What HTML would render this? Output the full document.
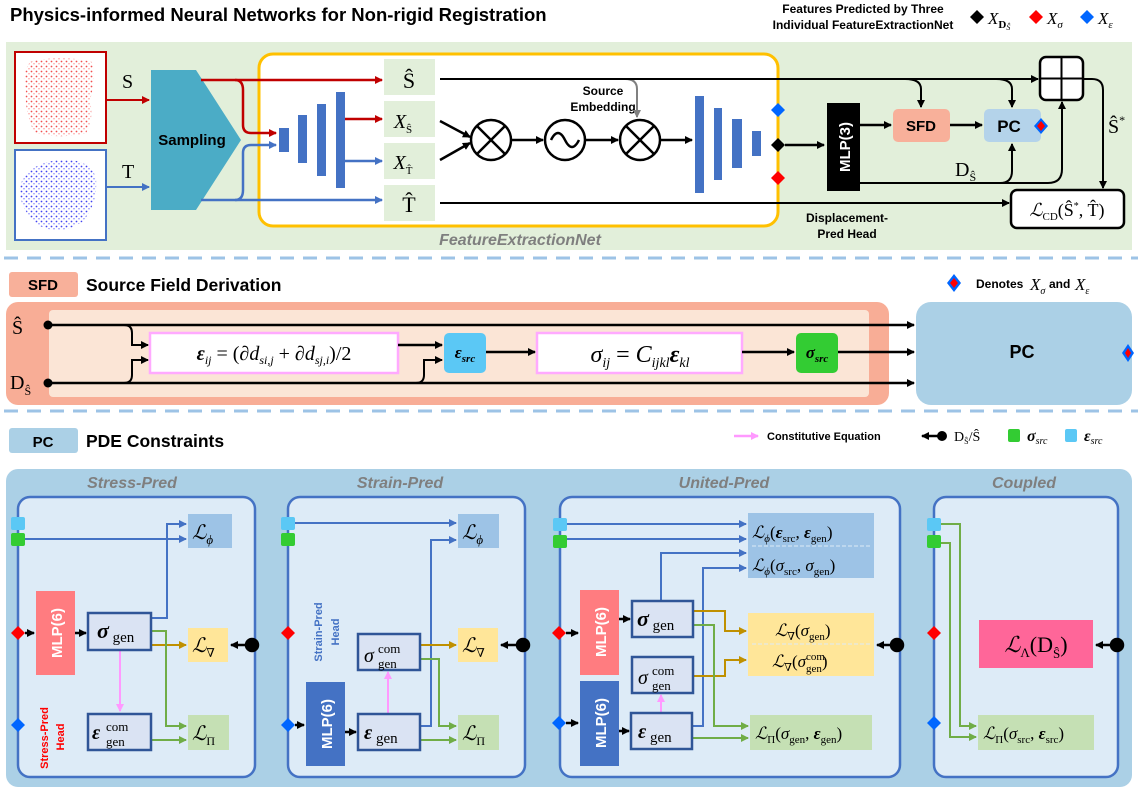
<!DOCTYPE html>
<html><head><meta charset="utf-8"><style>
html,body{margin:0;padding:0;background:#fff}
svg{display:block}
.b{font-family:"Liberation Sans",sans-serif;font-weight:bold}
.m{font-family:"Liberation Serif","DejaVu Serif",serif}
.i{font-style:italic}
</style></head><body>
<svg width="1138" height="789" viewBox="0 0 1138 789" xmlns="http://www.w3.org/2000/svg">
<defs>
<marker id="ak" markerWidth="8" markerHeight="8" refX="7" refY="4" orient="auto" markerUnits="userSpaceOnUse"><path d="M0,0L8,4L0,8z" fill="#000"/></marker>
<marker id="ar" markerWidth="8" markerHeight="8" refX="7" refY="4" orient="auto" markerUnits="userSpaceOnUse"><path d="M0,0L8,4L0,8z" fill="#c00000"/></marker>
<marker id="ab" markerWidth="8" markerHeight="8" refX="7" refY="4" orient="auto" markerUnits="userSpaceOnUse"><path d="M0,0L8,4L0,8z" fill="#4472c4"/></marker>
<marker id="ag" markerWidth="8" markerHeight="8" refX="7" refY="4" orient="auto" markerUnits="userSpaceOnUse"><path d="M0,0L8,4L0,8z" fill="#70ad47"/></marker>
<marker id="ao" markerWidth="8" markerHeight="8" refX="7" refY="4" orient="auto" markerUnits="userSpaceOnUse"><path d="M0,0L8,4L0,8z" fill="#bf9000"/></marker>
<marker id="ap" markerWidth="8" markerHeight="8" refX="7" refY="4" orient="auto" markerUnits="userSpaceOnUse"><path d="M0,0L8,4L0,8z" fill="#ff99ff"/></marker>
<marker id="ay" markerWidth="8" markerHeight="8" refX="7" refY="4" orient="auto" markerUnits="userSpaceOnUse"><path d="M0,0L8,4L0,8z" fill="#808080"/></marker>
<pattern id="pr" width="5" height="5" patternUnits="userSpaceOnUse"><circle cx="1.5" cy="1.5" r="0.9" fill="#f03030"/><circle cx="4" cy="3.8" r="0.7" fill="#ff7070"/></pattern>
<pattern id="pb" width="5" height="5" patternUnits="userSpaceOnUse"><circle cx="1.5" cy="1.5" r="0.9" fill="#2020ee"/><circle cx="4" cy="3.8" r="0.7" fill="#5050ff"/></pattern>
</defs>

<!-- Title -->
<text x="10" y="21" class="b" font-size="18.5">Physics-informed Neural Networks for Non-rigid Registration</text>
<text x="863" y="13" class="b" font-size="12" text-anchor="middle">Features Predicted by Three</text>
<text x="863" y="29" class="b" font-size="12" text-anchor="middle">Individual FeatureExtractionNet</text>
<path d="M977,10l7,7l-7,7l-7,-7z" fill="#000"/>
<text x="988" y="24" class="m i" font-size="17">X<tspan font-size="11" dy="4" font-style="normal" font-weight="bold">D</tspan><tspan font-size="8" dy="2">Ŝ</tspan></text>
<path d="M1036,10l7,7l-7,7l-7,-7z" fill="#f00"/>
<text x="1047" y="24" class="m i" font-size="17">X<tspan font-size="11" dy="4">σ</tspan></text>
<path d="M1087,10l7,7l-7,7l-7,-7z" fill="#0066ff"/>
<text x="1098" y="24" class="m i" font-size="17">X<tspan font-size="11" dy="4">ε</tspan></text>

<!-- top green region -->
<rect x="6" y="42" width="1126" height="208" fill="#e2efda"/>
<rect x="15" y="52" width="91" height="91" fill="#fff" stroke="#c00000" stroke-width="2"/>
<path d="M30,62Q60,54 92,62Q96,80 90,100Q94,120 86,133Q58,140 34,132Q24,110 26,90Q22,72 30,62z" fill="url(#pr)" opacity=".85"/>
<rect x="15" y="150" width="91" height="90" fill="#fff" stroke="#4472c4" stroke-width="2"/>
<path d="M20,185Q30,162 60,160Q90,158 96,178Q98,205 82,222Q60,236 40,226Q18,210 20,185z" fill="url(#pb)" opacity=".85"/>
<text x="122" y="88" class="m" font-size="20">S</text>
<text x="122" y="178" class="m" font-size="20">T</text>
<line x1="106" y1="100" x2="149" y2="100" stroke="#c00000" stroke-width="2" marker-end="url(#ar)"/>
<line x1="106" y1="187" x2="149" y2="187" stroke="#4472c4" stroke-width="2" marker-end="url(#ab)"/>
<path d="M151,70H196L241,140L196,210H151z" fill="#4bacc6"/>
<text x="192" y="145" class="b" font-size="15" text-anchor="middle">Sampling</text>

<rect x="259" y="54" width="519" height="172" rx="14" fill="#fff" stroke="#ffc000" stroke-width="3"/>
<text x="520" y="245" class="b i" font-size="16" fill="#7f7f7f" text-anchor="middle">FeatureExtractionNet</text>

<path d="M201,80H382" stroke="#c00000" stroke-width="2.5" fill="none" marker-end="url(#ar)"/>
<path d="M235,80Q243,80 243,90V125Q243,133 251,133H276" stroke="#c00000" stroke-width="2.5" fill="none" marker-end="url(#ar)"/>
<path d="M201,200H382" stroke="#4472c4" stroke-width="2.5" fill="none" marker-end="url(#ab)"/>
<path d="M235,200Q243,200 243,190V153Q243,145 251,145H276" stroke="#4472c4" stroke-width="2.5" fill="none" marker-end="url(#ab)"/>
<g fill="#4472c4">
<rect x="279" y="128" width="10" height="24"/><rect x="298" y="115" width="9" height="48"/><rect x="317" y="104" width="9" height="72"/><rect x="336" y="92" width="9" height="96"/>
</g>
<line x1="345" y1="119" x2="382" y2="119" stroke="#c00000" stroke-width="2.5" marker-end="url(#ar)"/>
<line x1="345" y1="161" x2="382" y2="161" stroke="#4472c4" stroke-width="2.5" marker-end="url(#ab)"/>
<g fill="#e2efda">
<rect x="384" y="59" width="51" height="36"/><rect x="384" y="101" width="51" height="36"/><rect x="384" y="143" width="51" height="36"/><rect x="384" y="185" width="51" height="36"/>
</g>
<text x="409" y="88" class="m" font-size="22" text-anchor="middle">Ŝ</text>
<text x="403" y="128" class="m i" font-size="20" text-anchor="middle">X<tspan font-size="11" dy="5" font-style="normal">Ŝ</tspan></text>
<text x="403" y="169" class="m i" font-size="20" text-anchor="middle">X<tspan font-size="11" dy="5" font-style="normal">T̂</tspan></text>
<text x="409" y="212" class="m" font-size="22" text-anchor="middle">T̂</text>

<line x1="440" y1="121" x2="470" y2="137" stroke="#000" stroke-width="2.5" marker-end="url(#ak)"/>
<line x1="440" y1="160" x2="470" y2="143" stroke="#000" stroke-width="2.5" marker-end="url(#ak)"/>
<g stroke="#000" stroke-width="2.5" fill="#fff">
<circle cx="491" cy="140" r="20"/><path d="M477,126L505,154M505,126L477,154"/>
<circle cx="565" cy="140" r="20"/><path d="M551,140q7,-14 14,0t14,0" fill="none"/>
<circle cx="640" cy="140" r="20"/><path d="M626,126L654,154M654,126L626,154"/>
</g>
<line x1="511" y1="140" x2="543" y2="140" stroke="#000" stroke-width="2.5" marker-end="url(#ak)"/>
<line x1="585" y1="140" x2="618" y2="140" stroke="#000" stroke-width="2.5" marker-end="url(#ak)"/>
<line x1="660" y1="140" x2="692" y2="140" stroke="#000" stroke-width="2.5" marker-end="url(#ak)"/>
<text x="603" y="95" class="b" font-size="12" text-anchor="middle">Source</text>
<text x="603" y="111" class="b" font-size="12" text-anchor="middle">Embedding</text>
<path d="M625,79Q637,79 637,89V117" stroke="#808080" stroke-width="2" fill="none" marker-end="url(#ay)"/>
<g fill="#4472c4">
<rect x="695" y="96" width="9" height="97"/><rect x="714" y="108" width="8" height="72"/><rect x="732" y="119" width="10" height="49"/><rect x="752" y="131" width="9" height="25"/>
</g>
<path d="M778,103l7,7l-7,7l-7,-7z" fill="#0066ff"/>
<path d="M778,138l7,7l-7,7l-7,-7z" fill="#000"/>
<path d="M778,171l7,7l-7,7l-7,-7z" fill="#f00"/>
<line x1="785" y1="145" x2="824" y2="145" stroke="#000" stroke-width="2.5" marker-end="url(#ak)"/>
<rect x="827" y="103" width="33" height="88" fill="#000"/>
<text transform="translate(850,147) rotate(-90)" class="b" font-size="15" fill="#fff" text-anchor="middle">MLP(3)</text>
<text x="847" y="222" class="b" font-size="12" text-anchor="middle">Displacement-</text>
<text x="847" y="238" class="b" font-size="12" text-anchor="middle">Pred Head</text>

<!-- main black lines -->
<path d="M440,79H1038" stroke="#000" stroke-width="2" fill="none" marker-end="url(#ak)"/>
<path d="M905,79Q921,79 921,89V107" stroke="#000" stroke-width="2" fill="none" marker-end="url(#ak)"/>
<path d="M996,79Q1012,79 1012,89V107" stroke="#000" stroke-width="2" fill="none" marker-end="url(#ak)"/>
<line x1="860" y1="125" x2="891" y2="125" stroke="#000" stroke-width="2.5" marker-end="url(#ak)"/>
<rect x="893" y="109" width="57" height="33" rx="5" fill="#f8b09a"/>
<text x="921" y="131" class="b" font-size="15" text-anchor="middle">SFD</text>
<line x1="950" y1="125" x2="982" y2="125" stroke="#000" stroke-width="2.5" marker-end="url(#ak)"/>
<rect x="984" y="109" width="57" height="33" rx="5" fill="#b4d3ea"/>
<text x="1009" y="132" class="b" font-size="17" text-anchor="middle">PC</text>
<path d="M1041,118l7,8l-7,8l-7,-8z" fill="#0066ff"/><path d="M1041,121l4,5l-4,5l-4,-5z" fill="#f00"/>
<path d="M860,183H1048Q1062,183 1062,169V102" stroke="#000" stroke-width="2" fill="none" marker-end="url(#ak)"/>
<path d="M1000,183Q1012,183 1012,171V144" stroke="#000" stroke-width="2" fill="none" marker-end="url(#ak)"/>
<text x="955" y="176" class="m" font-size="20">D<tspan font-size="12" dy="5">Ŝ</tspan></text>
<rect x="1040" y="57" width="43" height="43" rx="6" fill="#fff" stroke="#000" stroke-width="2.5"/>
<path d="M1061.5,57V100M1040,78.5H1083" stroke="#000" stroke-width="2"/>
<path d="M1083,79H1092Q1103,79 1103,90V188" stroke="#000" stroke-width="2" fill="none" marker-end="url(#ak)"/>
<text x="1108" y="133" class="m" font-size="20">Ŝ<tspan font-size="12" dy="-9">*</tspan></text>
<line x1="440" y1="203" x2="1009" y2="203" stroke="#000" stroke-width="2" marker-end="url(#ak)"/>
<rect x="1011" y="190" width="113" height="38" rx="6" fill="#fff" stroke="#000" stroke-width="2.5"/>
<text x="1067" y="216" class="m" font-size="18" text-anchor="middle"><tspan class="i">ℒ</tspan><tspan font-size="11" dy="4">CD</tspan><tspan dy="-4">(Ŝ</tspan><tspan font-size="10" dy="-7">*</tspan><tspan dy="7">, T̂)</tspan></text>

<!-- dashed separators -->
<line x1="4" y1="258" x2="1138" y2="258" stroke="#9dc3e6" stroke-width="3" stroke-dasharray="14 9"/>
<line x1="4" y1="411" x2="1138" y2="411" stroke="#9dc3e6" stroke-width="3" stroke-dasharray="14 9"/>

<!-- SFD section -->
<rect x="9" y="272" width="69" height="25" rx="3" fill="#f8b09a"/>
<text x="43" y="290" class="b" font-size="15" text-anchor="middle">SFD</text>
<text x="86" y="291" class="b" font-size="17.5">Source Field Derivation</text>
<path d="M954,274l7,9l-7,9l-7,-9z" fill="#0066ff"/><path d="M954,278l4,5l-4,5l-4,-5z" fill="#f00"/>
<text x="976" y="288" class="b" font-size="12">Denotes</text>
<text x="1030" y="290" class="m i" font-size="17">X<tspan font-size="10" dy="4">σ</tspan></text>
<text x="1049" y="288" class="b" font-size="12">and</text>
<text x="1075" y="290" class="m i" font-size="17">X<tspan font-size="10" dy="4">ε</tspan></text>

<rect x="6" y="302" width="883" height="103" rx="12" fill="#f8ad96"/>
<rect x="49" y="310" width="820" height="87" rx="4" fill="#fbe5d6"/>
<text x="12" y="334" class="m" font-size="20">Ŝ</text>
<text x="10" y="389" class="m" font-size="20">D<tspan font-size="12" dy="6">Ŝ</tspan></text>
<circle cx="48" cy="325" r="4.5"/><circle cx="48" cy="383" r="4.5"/>
<line x1="48" y1="325" x2="914" y2="325" stroke="#000" stroke-width="2.5" marker-end="url(#ak)"/>
<line x1="48" y1="383" x2="914" y2="383" stroke="#000" stroke-width="2.5" marker-end="url(#ak)"/>
<path d="M124,325Q132,325 132,333V345H148" stroke="#000" stroke-width="2" fill="none" marker-end="url(#ak)"/>
<path d="M124,383Q132,383 132,375V360H148" stroke="#000" stroke-width="2" fill="none" marker-end="url(#ak)"/>
<path d="M416,383Q424,383 424,375V360H442" stroke="#000" stroke-width="2" fill="none" marker-end="url(#ak)"/>
<rect x="150" y="333" width="248" height="40" fill="#fff" stroke="#ffaaff" stroke-width="2.5"/>
<text x="274" y="360" class="m" font-size="20" text-anchor="middle"><tspan font-weight="bold" class="i">ε</tspan><tspan class="i" font-size="12" dy="4">ij</tspan><tspan dy="-4"> = (∂</tspan><tspan class="i">d</tspan><tspan class="i" font-size="12" dy="4">si,j</tspan><tspan dy="-4"> + ∂</tspan><tspan class="i">d</tspan><tspan class="i" font-size="12" dy="4">sj,i</tspan><tspan dy="-4">)/2</tspan></text>
<line x1="398" y1="345" x2="442" y2="345" stroke="#000" stroke-width="2.5" marker-end="url(#ak)"/>
<rect x="444" y="333" width="42" height="40" rx="5" fill="#5bc8f5"/>
<text x="465" y="358" class="m i" font-size="17" font-weight="bold" text-anchor="middle">ε<tspan font-size="11" dy="4">src</tspan></text>
<line x1="486" y1="352" x2="535" y2="352" stroke="#000" stroke-width="2.5" marker-end="url(#ak)"/>
<rect x="537" y="333" width="205" height="40" fill="#fff" stroke="#ffaaff" stroke-width="2.5"/>
<text x="640" y="362" class="m i" font-size="24" text-anchor="middle">σ<tspan font-size="14" dy="5">ij</tspan><tspan dy="-5" font-style="normal"> = </tspan>C<tspan font-size="14" dy="5">ijkl</tspan><tspan dy="-5" font-weight="bold">ε</tspan><tspan font-size="14" dy="5">kl</tspan></text>
<line x1="742" y1="352" x2="794" y2="352" stroke="#000" stroke-width="2.5" marker-end="url(#ak)"/>
<rect x="796" y="333" width="42" height="40" rx="5" fill="#33cc33"/>
<text x="817" y="358" class="m i" font-size="17" font-weight="bold" text-anchor="middle">σ<tspan font-size="11" dy="4">src</tspan></text>
<line x1="838" y1="352" x2="914" y2="352" stroke="#000" stroke-width="2.5" marker-end="url(#ak)"/>
<rect x="916" y="302" width="216" height="103" rx="15" fill="#abd0e6"/>
<text x="1022" y="358" class="b" font-size="18" text-anchor="middle">PC</text>
<path d="M1128,344l6,9l-6,9l-6,-9z" fill="#0066ff"/><path d="M1128,348l3,5l-3,5l-3,-5z" fill="#f00"/>

<!-- PC section -->
<rect x="9" y="428" width="69" height="25" rx="3" fill="#abd0e6"/>
<text x="43" y="447" class="b" font-size="15" text-anchor="middle">PC</text>
<text x="86" y="447" class="b" font-size="17.5">PDE Constraints</text>
<line x1="734" y1="436" x2="758" y2="436" stroke="#ff99ff" stroke-width="2.5" marker-end="url(#ap)"/>
<text x="767" y="440" class="b" font-size="11">Constitutive Equation</text>
<line x1="944" y1="436" x2="922" y2="436" stroke="#000" stroke-width="2.5" marker-end="url(#ak)"/><circle cx="942" cy="436" r="5"/>
<text x="954" y="441" class="m" font-size="14">D<tspan font-size="8" dy="3">Ŝ</tspan><tspan dy="-3">/Ŝ</tspan></text>
<rect x="1008" y="429" width="12" height="13" rx="2" fill="#33cc33"/>
<text x="1027" y="441" class="m i" font-size="16" font-weight="bold">σ<tspan font-size="10" dy="3" font-weight="normal">src</tspan></text>
<rect x="1065" y="429" width="12" height="13" rx="2" fill="#5bc8f5"/>
<text x="1084" y="441" class="m i" font-size="16" font-weight="bold">ε<tspan font-size="10" dy="3" font-weight="normal">src</tspan></text>

<rect x="6" y="469" width="1126" height="318" rx="12" fill="#abd0e6"/>
<g class="b i" font-size="16" fill="#7f7f7f" text-anchor="middle">
<text x="132" y="488">Stress-Pred</text><text x="400" y="488">Strain-Pred</text><text x="724" y="488">United-Pred</text><text x="1024" y="488">Coupled</text>
</g>
<g fill="#ddebf7" stroke="#4472c4" stroke-width="2.5">
<rect x="18" y="497" width="237" height="280" rx="12"/>
<rect x="288" y="497" width="237" height="280" rx="12"/>
<rect x="560" y="497" width="340" height="280" rx="12"/>
<rect x="934" y="497" width="184" height="280" rx="12"/>
</g>

<g>
<rect x="11" y="517" width="14" height="13" rx="2" fill="#5bc8f5"/><rect x="11" y="533" width="14" height="13" rx="2" fill="#33cc33"/>
<rect x="281" y="517" width="14" height="13" rx="2" fill="#5bc8f5"/><rect x="281" y="533" width="14" height="13" rx="2" fill="#33cc33"/>
<rect x="553" y="518" width="14" height="13" rx="2" fill="#5bc8f5"/><rect x="553" y="535" width="14" height="13" rx="2" fill="#33cc33"/>
<rect x="927" y="518" width="14" height="13" rx="2" fill="#5bc8f5"/><rect x="927" y="535" width="14" height="13" rx="2" fill="#33cc33"/>
</g>
<g fill="#f00"><path d="M18,626l7,7l-7,7l-7,-7z"/><path d="M288,626l7,7l-7,7l-7,-7z"/><path d="M559,626l7,7l-7,7l-7,-7z"/><path d="M934,626l7,7l-7,7l-7,-7z"/></g>
<g fill="#0066ff"><path d="M18,718l7,7l-7,7l-7,-7z"/><path d="M288,718l7,7l-7,7l-7,-7z"/><path d="M559,716l7,7l-7,7l-7,-7z"/><path d="M934,716l7,7l-7,7l-7,-7z"/></g>
<g stroke="#000" stroke-width="2.5">
<line x1="250" y1="645" x2="231" y2="645" marker-end="url(#ak)"/><circle cx="252" cy="645" r="6"/>
<line x1="521" y1="645" x2="501" y2="645" marker-end="url(#ak)"/><circle cx="523" cy="645" r="6"/>
<line x1="895" y1="645" x2="877" y2="645" marker-end="url(#ak)"/><circle cx="897" cy="645" r="6"/>
<line x1="1115" y1="645" x2="1096" y2="645" marker-end="url(#ak)"/><circle cx="1117" cy="645" r="6"/>
</g>

<!-- Stress panel -->
<rect x="188" y="514" width="44" height="34" fill="#9dc3e6"/>
<rect x="188" y="628" width="40" height="34" fill="#ffe699"/>
<rect x="188" y="715" width="41" height="35" fill="#c5e0b4"/>
<rect x="36" y="591" width="39" height="84" fill="#ff7c80"/>
<text transform="translate(62,633) rotate(-90)" class="b" font-size="15" fill="#fff" text-anchor="middle">MLP(6)</text>
<line x1="25" y1="633" x2="34" y2="633" stroke="#000" stroke-width="2.5" marker-end="url(#ak)"/>
<line x1="75" y1="633" x2="86" y2="633" stroke="#000" stroke-width="2.5" marker-end="url(#ak)"/>
<text transform="translate(48,738) rotate(-90)" class="b" font-size="11" fill="#f00" text-anchor="middle">Stress-Pred</text>
<text transform="translate(64,737) rotate(-90)" class="b" font-size="11" fill="#f00" text-anchor="middle">Head</text>
<line x1="25" y1="539" x2="186" y2="539" stroke="#4472c4" stroke-width="2" marker-end="url(#ab)"/>
<path d="M151,618H167V524H186" stroke="#4472c4" stroke-width="2" fill="none" marker-end="url(#ab)"/>
<line x1="151" y1="645" x2="186" y2="645" stroke="#bf9000" stroke-width="2" marker-end="url(#ao)"/>
<path d="M151,631H166V726H186" stroke="#70ad47" stroke-width="2" fill="none" marker-end="url(#ag)"/>
<line x1="151" y1="740" x2="186" y2="740" stroke="#70ad47" stroke-width="2" marker-end="url(#ag)"/>
<line x1="120" y1="650" x2="120" y2="711" stroke="#ff99ff" stroke-width="2" marker-end="url(#ap)"/>
<rect x="88" y="613" width="63" height="37" fill="#dae3f3" stroke="#2f5597" stroke-width="2.5"/>
<rect x="88" y="714" width="63" height="36" fill="#dae3f3" stroke="#2f5597" stroke-width="2.5"/>

<!-- Strain panel -->
<rect x="458" y="514" width="41" height="34" fill="#9dc3e6"/>
<rect x="458" y="628" width="40" height="34" fill="#ffe699"/>
<rect x="458" y="715" width="41" height="35" fill="#c5e0b4"/>
<rect x="306" y="682" width="39" height="84" fill="#4472c4"/>
<text transform="translate(332,724) rotate(-90)" class="b" font-size="15" fill="#fff" text-anchor="middle">MLP(6)</text>
<line x1="295" y1="725" x2="304" y2="725" stroke="#000" stroke-width="2.5" marker-end="url(#ak)"/>
<line x1="345" y1="732" x2="356" y2="732" stroke="#000" stroke-width="2.5" marker-end="url(#ak)"/>
<text transform="translate(322,632) rotate(-90)" class="b" font-size="11" fill="#4472c4" text-anchor="middle">Strain-Pred</text>
<text transform="translate(339,632) rotate(-90)" class="b" font-size="11" fill="#4472c4" text-anchor="middle">Head</text>
<line x1="295" y1="523" x2="456" y2="523" stroke="#4472c4" stroke-width="2" marker-end="url(#ab)"/>
<path d="M420,726H431V540H456" stroke="#4472c4" stroke-width="2" fill="none" marker-end="url(#ab)"/>
<line x1="420" y1="645" x2="456" y2="645" stroke="#bf9000" stroke-width="2" marker-end="url(#ao)"/>
<path d="M420,659H439V726H456" stroke="#70ad47" stroke-width="2" fill="none" marker-end="url(#ag)"/>
<line x1="420" y1="740" x2="456" y2="740" stroke="#70ad47" stroke-width="2" marker-end="url(#ag)"/>
<line x1="388" y1="713" x2="388" y2="672" stroke="#ff99ff" stroke-width="2" marker-end="url(#ap)"/>
<rect x="358" y="634" width="62" height="36" fill="#dae3f3" stroke="#2f5597" stroke-width="2.5"/>
<rect x="358" y="714" width="62" height="36" fill="#dae3f3" stroke="#2f5597" stroke-width="2.5"/>

<!-- United panel -->
<rect x="748" y="513" width="126" height="65" fill="#9dc3e6"/>
<line x1="752" y1="546" x2="870" y2="546" stroke="#ddebf7" stroke-width="1" stroke-dasharray="4 2"/>
<rect x="748" y="613" width="126" height="63" fill="#ffe699"/>
<line x1="752" y1="644" x2="870" y2="644" stroke="#ddebf7" stroke-width="1" stroke-dasharray="4 2"/>
<rect x="750" y="715" width="122" height="35" fill="#c5e0b4"/>
<rect x="580" y="590" width="39" height="85" fill="#ff7c80"/>
<text transform="translate(606,632) rotate(-90)" class="b" font-size="15" fill="#fff" text-anchor="middle">MLP(6)</text>
<rect x="580" y="681" width="39" height="85" fill="#4472c4"/>
<text transform="translate(606,723) rotate(-90)" class="b" font-size="15" fill="#fff" text-anchor="middle">MLP(6)</text>
<g stroke="#000" stroke-width="2.5">
<line x1="566" y1="633" x2="578" y2="633" marker-end="url(#ak)"/><line x1="566" y1="723" x2="578" y2="723" marker-end="url(#ak)"/>
<line x1="619" y1="619" x2="630" y2="619" marker-end="url(#ak)"/><line x1="619" y1="731" x2="629" y2="731" marker-end="url(#ak)"/>
</g>
<line x1="567" y1="524" x2="746" y2="524" stroke="#4472c4" stroke-width="2" marker-end="url(#ab)"/>
<line x1="567" y1="539" x2="746" y2="539" stroke="#4472c4" stroke-width="2" marker-end="url(#ab)"/>
<path d="M661,601V553H746" stroke="#4472c4" stroke-width="2" fill="none" marker-end="url(#ab)"/>
<path d="M692,726H703V568H746" stroke="#4472c4" stroke-width="2" fill="none" marker-end="url(#ab)"/>
<path d="M693,611H725V631H746" stroke="#bf9000" stroke-width="2" fill="none" marker-end="url(#ao)"/>
<path d="M693,676H725V660H746" stroke="#bf9000" stroke-width="2" fill="none" marker-end="url(#ao)"/>
<path d="M693,625H714V726H748" stroke="#70ad47" stroke-width="2" fill="none" marker-end="url(#ag)"/>
<line x1="692" y1="738" x2="748" y2="738" stroke="#70ad47" stroke-width="2" marker-end="url(#ag)"/>
<line x1="661" y1="712" x2="661" y2="695" stroke="#ff99ff" stroke-width="2" marker-end="url(#ap)"/>
<rect x="632" y="601" width="61" height="36" fill="#dae3f3" stroke="#2f5597" stroke-width="2.5"/>
<rect x="632" y="657" width="61" height="36" fill="#dae3f3" stroke="#2f5597" stroke-width="2.5"/>
<rect x="631" y="713" width="61" height="36" fill="#dae3f3" stroke="#2f5597" stroke-width="2.5"/>

<!-- Coupled panel -->
<rect x="979" y="620" width="114" height="48" fill="#ff6699"/>
<rect x="978" y="715" width="116" height="35" fill="#c5e0b4"/>
<path d="M941,524H960V726H976" stroke="#70ad47" stroke-width="2" fill="none" marker-end="url(#ag)"/>
<path d="M941,543H950V737H976" stroke="#70ad47" stroke-width="2" fill="none" marker-end="url(#ag)"/>

<!-- math labels -->
<g class="m" font-size="20">
<text x="192" y="539" class="i">ℒ<tspan font-size="13" dy="5">ϕ</tspan></text>
<text x="462" y="539" class="i">ℒ<tspan font-size="13" dy="5">ϕ</tspan></text>
<text x="192" y="652" class="i">ℒ<tspan font-size="12" dy="5" font-style="normal">∇</tspan></text>
<text x="462" y="652" class="i">ℒ<tspan font-size="12" dy="5" font-style="normal">∇</tspan></text>
<text x="192" y="740" class="i">ℒ<tspan font-size="12" dy="5" font-style="normal">Π</tspan></text>
<text x="462" y="740" class="i">ℒ<tspan font-size="12" dy="5" font-style="normal">Π</tspan></text>
<text x="97" y="638"><tspan font-weight="bold" class="i" font-size="22">σ</tspan><tspan font-size="15" dy="4"> gen</tspan></text>
<text x="92" y="739"><tspan font-weight="bold" class="i">ε</tspan><tspan font-size="13" dy="-8" x="106">com</tspan><tspan font-size="13" dy="15" x="106">gen</tspan></text>
<text x="364" y="662"><tspan class="i">σ</tspan><tspan font-size="13" dy="-9" x="378">com</tspan><tspan font-size="13" dy="15" x="378">gen</tspan></text>
<text x="364" y="739"><tspan font-weight="bold" class="i">ε</tspan><tspan font-size="15" dy="4"> gen</tspan></text>
<text x="637" y="626"><tspan font-weight="bold" class="i" font-size="22">σ</tspan><tspan font-size="15" dy="4"> gen</tspan></text>
<text x="638" y="684"><tspan class="i">σ</tspan><tspan font-size="13" dy="-9" x="652">com</tspan><tspan font-size="13" dy="15" x="652">gen</tspan></text>
<text x="638" y="738"><tspan font-weight="bold" class="i">ε</tspan><tspan font-size="15" dy="4"> gen</tspan></text>
</g>
<g class="m" font-size="17">
<text x="752" y="538"><tspan class="i">ℒ</tspan><tspan font-size="11" dy="4" class="i">ϕ</tspan><tspan dy="-4">(</tspan><tspan class="i" font-weight="bold">ε</tspan><tspan font-size="11" dy="4">src</tspan><tspan dy="-4">, </tspan><tspan class="i" font-weight="bold">ε</tspan><tspan font-size="11" dy="4">gen</tspan><tspan dy="-4">)</tspan></text>
<text x="752" y="571"><tspan class="i">ℒ</tspan><tspan font-size="11" dy="4" class="i">ϕ</tspan><tspan dy="-4">(</tspan><tspan class="i">σ</tspan><tspan font-size="11" dy="4">src</tspan><tspan dy="-4">, </tspan><tspan class="i">σ</tspan><tspan font-size="11" dy="4">gen</tspan><tspan dy="-4">)</tspan></text>
<text x="775" y="636"><tspan class="i">ℒ</tspan><tspan font-size="11" dy="4">∇</tspan><tspan dy="-4">(</tspan><tspan class="i">σ</tspan><tspan font-size="11" dy="4">gen</tspan><tspan dy="-4">)</tspan></text>
<text x="772" y="667"><tspan class="i">ℒ</tspan><tspan font-size="11" dy="4">∇</tspan><tspan dy="-4">(</tspan><tspan class="i">σ</tspan><tspan font-size="11" dy="-7">com</tspan><tspan font-size="11" dy="12" dx="-19">gen</tspan><tspan dy="-5">)</tspan></text>
<text x="755" y="739"><tspan class="i">ℒ</tspan><tspan font-size="11" dy="4">Π</tspan><tspan dy="-4">(</tspan><tspan class="i">σ</tspan><tspan font-size="11" dy="4">gen</tspan><tspan dy="-4">, </tspan><tspan class="i" font-weight="bold">ε</tspan><tspan font-size="11" dy="4">gen</tspan><tspan dy="-4">)</tspan></text>
<text x="983" y="739"><tspan class="i">ℒ</tspan><tspan font-size="11" dy="4">Π</tspan><tspan dy="-4">(</tspan><tspan class="i">σ</tspan><tspan font-size="11" dy="4">src</tspan><tspan dy="-4">, </tspan><tspan class="i" font-weight="bold">ε</tspan><tspan font-size="11" dy="4">src</tspan><tspan dy="-4">)</tspan></text>
</g>
<text x="1036" y="652" class="m" font-size="22" text-anchor="middle"><tspan class="i">ℒ</tspan><tspan font-size="13" dy="5">Λ</tspan><tspan dy="-5">(D</tspan><tspan font-size="13" dy="6">Ŝ</tspan><tspan dy="-6">)</tspan></text>
</svg>
</body></html>
